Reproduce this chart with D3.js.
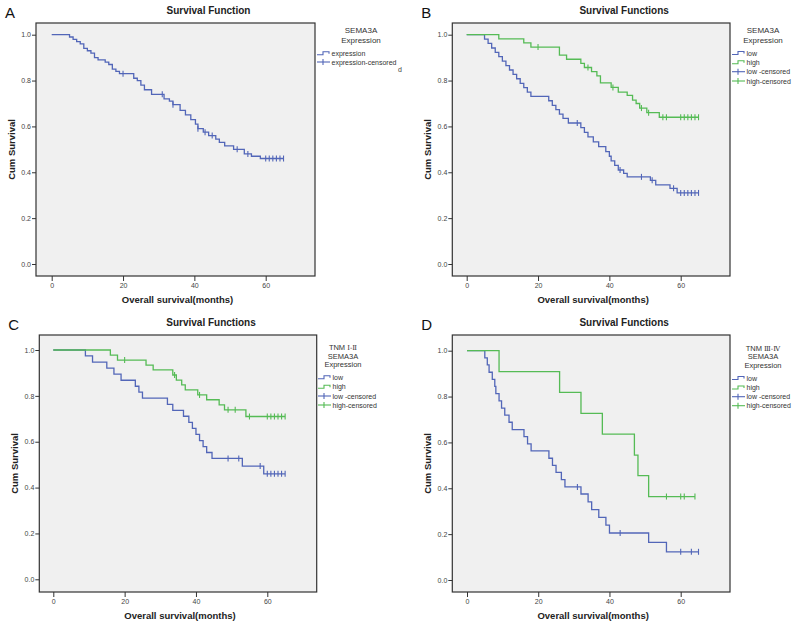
<!DOCTYPE html>
<html>
<head>
<meta charset="utf-8">
<script src="https://cdn.jsdelivr.net/npm/d3@7"></script>
<style>
  body { margin: 0; background: #fff; }
  text { font-family: "Liberation Sans", Arial, sans-serif; }
</style>
</head>
<body>
<script>
// Panel A - all patients
var aTime = [5, 6, 7, 8, 9, 10, 11, 12, 13, 15, 16, 17, 18, 19, 23, 24, 25, 26, 28, 31.5, 33, 34, 36, 37.5, 39, 40.3, 41, 42.5, 44, 46, 47, 48.5, 51, 54, 56, 58.5],
    aSurv = [0.99, 0.98, 0.97, 0.96, 0.94, 0.93, 0.92, 0.90, 0.89, 0.88, 0.87, 0.85, 0.84, 0.83, 0.81, 0.80, 0.78, 0.76, 0.74, 0.72, 0.71, 0.695, 0.67, 0.65, 0.63, 0.61, 0.59, 0.575, 0.56, 0.545, 0.53, 0.515, 0.50, 0.48, 0.47, 0.46],
    aCens = [20, 31, 34, 41, 43, 45, 52, 55, 60, 61, 62, 63, 64, 65];

// Panel B - low / high
var bLowTime = [5, 6, 7, 8, 9, 10, 11, 12, 13, 14, 15, 16, 17, 18, 23, 24, 25, 26, 27, 28.5, 32, 33, 34, 35.5, 37, 39, 40, 40.5, 41.5, 42.5, 44, 45, 51.5, 53, 57, 59],
    bLowSurv = [0.981, 0.962, 0.942, 0.923, 0.904, 0.885, 0.865, 0.846, 0.827, 0.808, 0.788, 0.769, 0.750, 0.731, 0.712, 0.692, 0.673, 0.654, 0.635, 0.615, 0.595, 0.574, 0.554, 0.533, 0.512, 0.49, 0.47, 0.45, 0.43, 0.41, 0.395, 0.38, 0.365, 0.345, 0.33, 0.31],
    bLowCens = [31, 43, 49, 52, 58, 60, 61, 62, 63, 64, 65];
var bHighTime = [9, 16, 18, 26, 28, 32, 33, 35, 36.5, 37.5, 40.5, 42.5, 45, 46.5, 47.5, 48.5, 50.5, 54],
    bHighSurv = [0.982, 0.964, 0.946, 0.911, 0.893, 0.875, 0.857, 0.839, 0.82, 0.79, 0.77, 0.75, 0.735, 0.715, 0.70, 0.68, 0.66, 0.64],
    bHighCens = [20, 34, 41, 49, 51, 55, 56, 60, 61, 62, 63, 64, 65];

// Panel C - TNM I-II
var cLowTime = [9, 11, 15, 17, 19, 23, 24, 25, 32, 33.5, 36.5, 38, 39, 40, 41, 42, 43, 44.5, 53, 59],
    cLowSurv = [0.974, 0.947, 0.921, 0.895, 0.868, 0.842, 0.816, 0.79, 0.763, 0.737, 0.711, 0.684, 0.658, 0.632, 0.605, 0.579, 0.553, 0.527, 0.494, 0.46],
    cLowCens = [49, 52, 58, 60, 61, 62, 63, 64, 65];
var cHighTime = [16, 18, 26, 28, 33.5, 34.5, 36, 37, 40.5, 43, 46.5, 48, 54],
    cHighSurv = [0.978, 0.956, 0.934, 0.913, 0.891, 0.869, 0.848, 0.826, 0.804, 0.783, 0.761, 0.739, 0.71],
    cHighCens = [20, 34, 41, 49, 51, 55, 60, 61, 62, 63, 64, 65];

// Panel D - TNM III-IV
var dLowTime = [5, 5.7, 6.2, 7.1, 7.8, 8.1, 9, 9.7, 10.6, 11.8, 12.7, 16, 17, 18, 23, 24, 25, 26.5, 27.5, 32, 34, 35, 37, 39, 40, 51, 56],
    dLowSurv = [0.969, 0.938, 0.906, 0.875, 0.844, 0.813, 0.781, 0.75, 0.719, 0.688, 0.656, 0.625, 0.594, 0.563, 0.531, 0.5, 0.469, 0.438, 0.406, 0.375, 0.341, 0.307, 0.273, 0.239, 0.205, 0.164, 0.123],
    dLowCens = [31, 43, 60, 63, 65];
var dHighTime = [9, 26, 32, 38, 47, 48, 51],
    dHighSurv = [0.909, 0.818, 0.727, 0.636, 0.545, 0.455, 0.364],
    dHighCens = [56, 60, 61, 64];

// Axis ticks
var xTicks = [0, 20, 40, 60],
    yTicks = [0, 0.2, 0.4, 0.6, 0.8, 1.0];

var blue = "#5266b8", green = "#55bb55";

// Panel layout (pixel boxes)
var panels = [
  { letter: "A", title: "Survival Function", box: [36, 23, 315, 276], x0: 51.7, x60: 265.7, y1: 34.7, y0: 264,
    head: ["SEMA3A", "Expression"], headY: [30.5, 39.8], headSize: 8, headX: 361,
    items: [["expression", blue, false], ["expression-censored", blue, true]], itemY: [53.3, 62], iconX: 317, clip: 399,
    curves: [[aTime, aSurv, aCens, blue]] },
  { letter: "B", title: "Survival Functions", box: [452.3, 23, 730, 276], x0: 466.7, x60: 680.7, y1: 34.7, y0: 264,
    head: ["SEMA3A", "Expression"], headY: [30.5, 39.8], headSize: 8, headX: 763,
    items: [["low", blue, false], ["high", green, false], ["low -censored", blue, true], ["high-censored", green, true]],
    itemY: [53, 62.3, 71.7, 81], iconX: 732,
    curves: [[bLowTime, bLowSurv, bLowCens, blue], [bHighTime, bHighSurv, bHighCens, green]] },
  { letter: "C", title: "Survival Functions", box: [39.3, 335, 316.7, 592], x0: 53.3, x60: 267.3, y1: 350, y0: 579.3,
    head: ["TNM Ⅰ-Ⅱ", "SEMA3A", "Expression"], headY: [347.5, 356, 364.5], headSize: 7.5, headX: 343,
    items: [["low", blue, false], ["high", green, false], ["low -censored", blue, true], ["high-censored", green, true]],
    itemY: [377.3, 386.7, 396, 405], iconX: 318,
    curves: [[cLowTime, cLowSurv, cLowCens, blue], [cHighTime, cHighSurv, cHighCens, green]] },
  { letter: "D", title: "Survival Functions", box: [452.3, 335, 730, 592], x0: 467, x60: 680.7, y1: 350.7, y0: 580,
    head: ["TNM Ⅲ-Ⅳ", "SEMA3A", "Expression"], headY: [348, 356.5, 365], headSize: 7.5, headX: 763,
    items: [["low", blue, false], ["high", green, false], ["low -censored", blue, true], ["high-censored", green, true]],
    itemY: [378, 387.5, 396.7, 405.7], iconX: 732,
    curves: [[dLowTime, dLowSurv, dLowCens, blue], [dHighTime, dHighSurv, dHighCens, green]] }
];

var svg = d3.select("body").append("svg")
    .attr("width", 800)
    .attr("height", 625);

svg.append("defs").append("clipPath").attr("id", "clipA")
    .append("rect").attr("x", 0).attr("y", 0).attr("width", 399).attr("height", 310);

function survAt(times, surv, t) {
  var s = 1;
  times.forEach(function(tt, i) { if (tt <= t) s = surv[i]; });
  return s;
}

panels.forEach(function(p) {
  var bx = p.box;
  var x = d3.scaleLinear().domain([0, 60]).range([p.x0, p.x60]),
      y = d3.scaleLinear().domain([0, 1]).range([p.y0, p.y1]);
  var g = svg.append("g");

  // Letter and title
  g.append("text").attr("x", bx[0] - 31).attr("y", bx[1] - 5)
      .style("font-size", "15px").style("fill", "#111").text(p.letter);
  g.append("text").attr("x", (bx[0] + bx[2]) / 2 + 33).attr("y", bx[1] - 9.5)
      .attr("text-anchor", "middle").style("font-size", "10px").style("font-weight", "bold")
      .style("fill", "#222").text(p.title);

  // Plot area
  g.append("rect").attr("x", bx[0]).attr("y", bx[1])
      .attr("width", bx[2] - bx[0]).attr("height", bx[3] - bx[1])
      .style("fill", "#f0f0f0").style("stroke", "#333").style("stroke-width", 1.2);

  // Axes
  var ya = g.append("g").attr("transform", "translate(" + bx[0] + ",0)")
      .call(d3.axisLeft(y).tickValues(yTicks).tickSize(4).tickPadding(1).tickFormat(d3.format(".1f")));
  var xa = g.append("g").attr("transform", "translate(0," + bx[3] + ")")
      .call(d3.axisBottom(x).tickValues(xTicks).tickSize(5).tickPadding(2).tickFormat(d3.format("d")));
  [ya, xa].forEach(function(a) {
    a.select(".domain").remove();
    a.selectAll("line").style("stroke", "#333");
    a.selectAll("text").style("font-size", "7px").style("fill", "#444")
        .style("font-family", "'Liberation Sans', Arial, sans-serif");
  });

  // Axis titles
  g.append("text").attr("transform", "translate(" + (bx[0] - 21) + "," + ((bx[1] + bx[3]) / 2) + ") rotate(-90)")
      .attr("text-anchor", "middle").style("font-size", "9.5px").style("font-weight", "bold")
      .style("fill", "#222").text("Cum Survival");
  g.append("text").attr("x", (bx[0] + bx[2]) / 2 + 2).attr("y", bx[3] + 27)
      .attr("text-anchor", "middle").style("font-size", "9.5px").style("font-weight", "bold")
      .style("fill", "#222").text("Overall survival(months)");

  // Curves
  var line = d3.line().curve(d3.curveStepAfter)
      .x(function(d) { return x(d[0]); })
      .y(function(d) { return y(d[1]); });

  p.curves.forEach(function(c) {
    var times = c[0], surv = c[1], cens = c[2], col = c[3];
    var pts = [[0, 1]];
    times.forEach(function(t, i) { pts.push([t, surv[i]]); });
    var end = Math.max(d3.max(times), d3.max(cens));
    pts.push([end, survAt(times, surv, end)]);
    g.append("path").datum(pts).attr("d", line)
        .style("fill", "none").style("stroke", col).style("stroke-width", 1.3);
    g.selectAll(null).data(cens).enter().append("line")
        .attr("x1", function(d) { return x(d); })
        .attr("x2", function(d) { return x(d); })
        .attr("y1", function(d) { return y(survAt(times, surv, d)) - 3; })
        .attr("y2", function(d) { return y(survAt(times, surv, d)) + 3; })
        .style("stroke", col).style("stroke-width", 1.1);
  });

  // Legend
  var lg = svg.append("g");
  if (p.clip) lg.attr("clip-path", "url(#clipA)");
  p.head.forEach(function(h, i) {
    var t = lg.append("text").attr("x", p.headX).attr("y", p.headY[i] + 2.8)
        .attr("text-anchor", "middle").style("font-size", p.headSize + "px").style("fill", "#333");
    if (h.indexOf("TNM") === 0) {
      t.append("tspan").text("TNM ");
      t.append("tspan").style("font-family", "'DejaVu Serif', serif").style("font-size", (p.headSize - 0.5) + "px")
          .text(h.slice(4));
    } else {
      t.text(h);
    }
  });
  p.items.forEach(function(it, i) {
    var yy = p.itemY[i], x0 = p.iconX;
    if (it[2]) {
      lg.append("line").attr("x1", x0).attr("x2", x0 + 13).attr("y1", yy).attr("y2", yy)
          .style("stroke", it[1]).style("stroke-width", 1.1);
      lg.append("line").attr("x1", x0 + 6).attr("x2", x0 + 6).attr("y1", yy - 3).attr("y2", yy + 3)
          .style("stroke", it[1]).style("stroke-width", 1.1);
    } else {
      lg.append("path").attr("d", "M" + x0 + "," + (yy + 1.5) + "H" + (x0 + 6) + "V" + (yy - 1.5) + "H" + (x0 + 12) + "V" + (yy + 0.5))
          .style("fill", "none").style("stroke", it[1]).style("stroke-width", 1.1);
    }
    lg.append("text").attr("x", x0 + 14.5).attr("y", yy + 2.5)
        .style("font-size", "7px").style("fill", "#333").text(it[0]);
  });
});

// wrapped tail of the clipped legend label in panel A
svg.append("text").attr("x", 398).attr("y", 72).style("font-size", "7px").style("fill", "#444").text("d");
</script>
</body>
</html>
